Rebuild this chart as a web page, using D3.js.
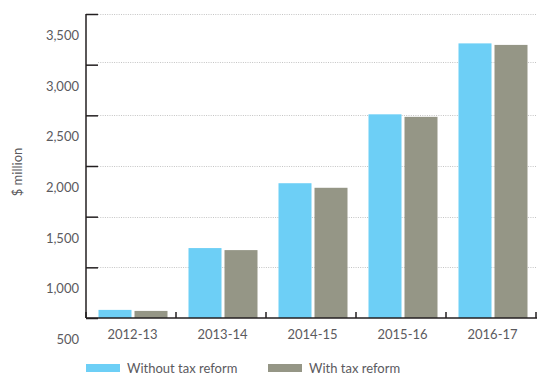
<!DOCTYPE html>
<html><head><meta charset="utf-8">
<script src="https://cdn.jsdelivr.net/npm/d3@7"></script>
<style>
body{margin:0;background:#fff;}
text{font-family:Lato,"Open Sans",sans-serif;fill:#5b5a5e;}
</style></head>
<body><svg id="c" width="556" height="390"></svg>
<script>
const categories = ["2012-13","2013-14","2014-15","2015-16","2016-17"];
const seriesNames = ["Without tax reform","With tax reform"];
const withoutReform = [580, 1190, 1830, 2510, 3210];
const withReform = [570, 1170, 1785, 2485, 3195];
const yTicks = [500,1000,1500,2000,2500,3000,3500];
const gridValues = [1000,1500,2000,2500,3030,3500];
const colors = ["#6dcff6","#959686"];

const svg = d3.select("#c");
const L = 86, R = 536, T = 14, B = 318;
const y = d3.scaleLinear().domain([500,3500]).range([B,T]);
const x0 = d3.scaleBand().domain(categories).range([L,R]).padding(0);
const x1 = d3.scaleBand().domain(seriesNames).range([12.5,81.5]).paddingInner(3/36).paddingOuter(0);
const color = d3.scaleOrdinal().domain(seriesNames).range(colors);

// gridlines
svg.append("g").selectAll("line").data(gridValues).join("line")
  .attr("x1", L+12).attr("x2", R+1)
  .attr("y1", d=>Math.round(y(d))+0.5).attr("y2", d=>Math.round(y(d))+0.5)
  .attr("stroke","#c4c4c4").attr("stroke-width",1).attr("stroke-dasharray","1,1.3");

// bars
const rows = categories.map((c,i)=>({cat:c, vals:[withoutReform[i], withReform[i]]}));
svg.append("g").selectAll("g").data(rows).join("g")
  .attr("transform", d=>`translate(${x0(d.cat)},0)`)
  .selectAll("rect").data(d=>seriesNames.map((s,j)=>({s, v:d.vals[j]}))).join("rect")
  .attr("x", d=>x1(d.s)).attr("width", x1.bandwidth())
  .attr("y", d=>y(d.v)).attr("height", d=>B - y(d.v))
  .attr("fill", d=>color(d.s));

// y axis
const yAxis = svg.append("g").attr("transform",`translate(${L},0)`)
  .call(d3.axisRight(y).tickValues(yTicks).tickSize(12).tickFormat(d3.format(",")));
yAxis.select(".domain").attr("stroke","#231f20").attr("stroke-width",1.5).attr("d",`M0,${T}V${B}`);
yAxis.selectAll(".tick line").attr("stroke","#231f20").attr("stroke-width",1.5);
yAxis.selectAll(".tick text").attr("x",-7).attr("dy","0.35em")
  .attr("transform","translate(0,21)")
  .attr("text-anchor","end").style("font-size","13px");

// x axis
const xAxis = svg.append("g").attr("transform",`translate(0,${B})`)
  .call(d3.axisBottom(x0).tickSize(0).tickPadding(12));
xAxis.select(".domain").attr("stroke","#231f20").attr("stroke-width",1.5).attr("d",`M${L},0H${R+1}`);
xAxis.selectAll(".tick text").attr("dx",1.5).style("font-size","13px");
const bounds = categories.map(c=>x0(c)).concat([x0(categories[categories.length-1])+x0.bandwidth()]);
svg.append("g").selectAll("line").data(bounds).join("line")
  .attr("x1",d=>d).attr("x2",d=>d).attr("y1",B-6).attr("y2",B)
  .attr("stroke","#231f20").attr("stroke-width",1.5);

// y title
svg.append("text").attr("transform","translate(22,172) rotate(-90)")
  .attr("text-anchor","middle").style("font-size","13px").text("$ million");

// legend
const lx = [86, 268];
const lg = svg.append("g").selectAll("g").data(seriesNames).join("g")
  .attr("transform",(d,i)=>`translate(${lx[i]},364)`);
lg.append("rect").attr("width",34).attr("height",8).attr("fill",d=>color(d));
lg.append("text").attr("x",41).attr("y",4).attr("dy","0.35em").style("font-size","13px").text(d=>d);
</script></body></html>
